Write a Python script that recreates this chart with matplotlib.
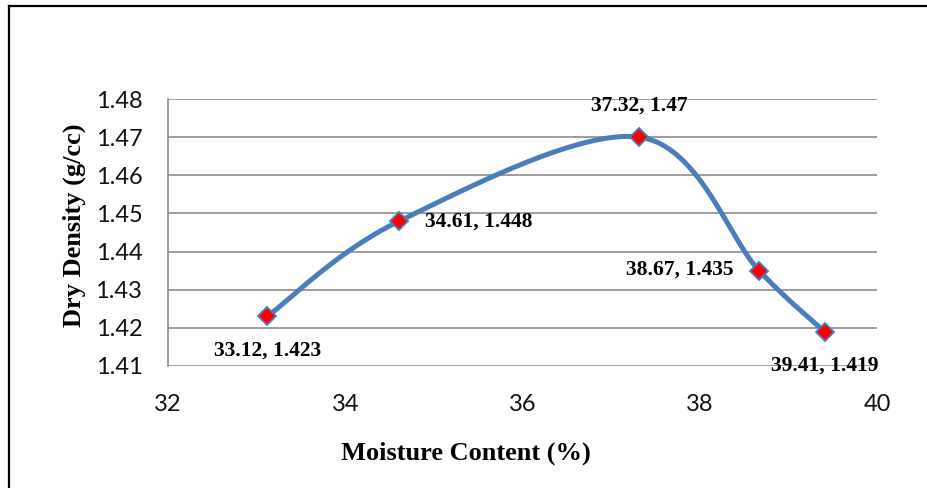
import numpy as np
import matplotlib
matplotlib.use("Agg")
import matplotlib.pyplot as plt
from matplotlib.lines import Line2D

# Compaction test results
moisture = [33.12, 34.61, 37.32, 38.67, 39.41]
dry_density = [1.423, 1.448, 1.470, 1.435, 1.419]
point_labels = ["33.12, 1.423", "34.61, 1.448", "37.32, 1.47", "38.67, 1.435", "39.41, 1.419"]
x_ticks = [32, 34, 36, 38, 40]
y_ticks = [1.41, 1.42, 1.43, 1.44, 1.45, 1.46, 1.47, 1.48]

W, H, DPI = 928, 488, 100
fig = plt.figure(figsize=(W / DPI, H / DPI), dpi=DPI)

left, right, top, bottom = 168, 877, 99, 366
ax = fig.add_axes([left / W, 1 - bottom / H, (right - left) / W, (bottom - top) / H])
ax.set_xlim(32, 40)
ax.set_ylim(1.41, 1.48)

grid_col = "#8c8c8c"
ax.set_yticks(y_ticks)
ax.set_xticks(x_ticks)
ax.yaxis.grid(True, color=grid_col, linewidth=1.2)
ax.set_axisbelow(True)
for s in ["top", "right", "bottom"]:
    ax.spines[s].set_visible(False)
ax.spines["left"].set_color(grid_col)
ax.spines["left"].set_linewidth(1.2)
ax.tick_params(length=0)
ax.tick_params(axis="y", pad=18.5)
ax.tick_params(axis="x", pad=20)
ax.set_yticklabels([f"{v:.2f}" for v in y_ticks])
for lab in ax.get_xticklabels() + ax.get_yticklabels():
    lab.set_fontfamily("Lato")
    lab.set_fontsize(17)
    lab.set_color("#111111")

# Smoothed line (cardinal spline through the points, built in display space)
fig.canvas.draw()
pts = ax.transData.transform(np.column_stack([moisture, dry_density]))
ext = np.vstack([pts[0], pts, pts[-1]])
curve = []
for i in range(len(pts) - 1):
    p0, p1, p2, p3 = ext[i], ext[i + 1], ext[i + 2], ext[i + 3]
    c1 = p1 + (p2 - p0) / 6.0
    c2 = p2 - (p3 - p1) / 6.0
    t = np.linspace(0, 1, 60)[:, None]
    seg = ((1 - t) ** 3) * p1 + 3 * ((1 - t) ** 2) * t * c1 + 3 * (1 - t) * t ** 2 * c2 + t ** 3 * p2
    curve.append(seg if i == 0 else seg[1:])
curve = ax.transData.inverted().transform(np.vstack(curve))

line_col = "#4a7ebb"
ax.plot(curve[:, 0], curve[:, 1], color=line_col, linewidth=3.6, solid_capstyle="round", zorder=3)
ax.plot(moisture, dry_density, linestyle="none", marker="D", markersize=9.5,
        markerfacecolor="#ff0000", markeredgecolor=line_col, markeredgewidth=1.3, zorder=4)

# Data labels
lab_font = dict(family="Liberation Serif", fontweight="bold", fontsize=15.5, color="black")
offsets = [(0, -34, "center", "center"), (26, -1, "left", "center"), (0, 32, "center", "center"),
           (-26, 1, "right", "center"), (0, -34, "center", "center")]
for x, y, txt, (dx, dy, ha, va) in zip(moisture, dry_density, point_labels, offsets):
    ax.annotate(txt, (x, y), xytext=(dx * 72 / DPI, dy * 72 / DPI), textcoords="offset points",
                ha=ha, va=va, zorder=5, **lab_font)

title_font = dict(family="Liberation Serif", fontweight="bold", fontsize=19)
fig.text(466 / W, 1 - 453 / H, "Moisture Content (%)", ha="center", va="center", **title_font)
fig.text(74 / W, 1 - 225 / H, "Dry Density (g/cc)", ha="center", va="center", rotation=90, **title_font)

# Frame lines around the chart
fig.add_artist(Line2D([9.5 / W, 9.5 / W], [0, 1 - 6 / H], transform=fig.transFigure, color="black", linewidth=1.6))
fig.add_artist(Line2D([9.5 / W, 1], [1 - 6 / H, 1 - 6 / H], transform=fig.transFigure, color="black", linewidth=1.6))

fig.savefig("out.png", dpi=DPI)
